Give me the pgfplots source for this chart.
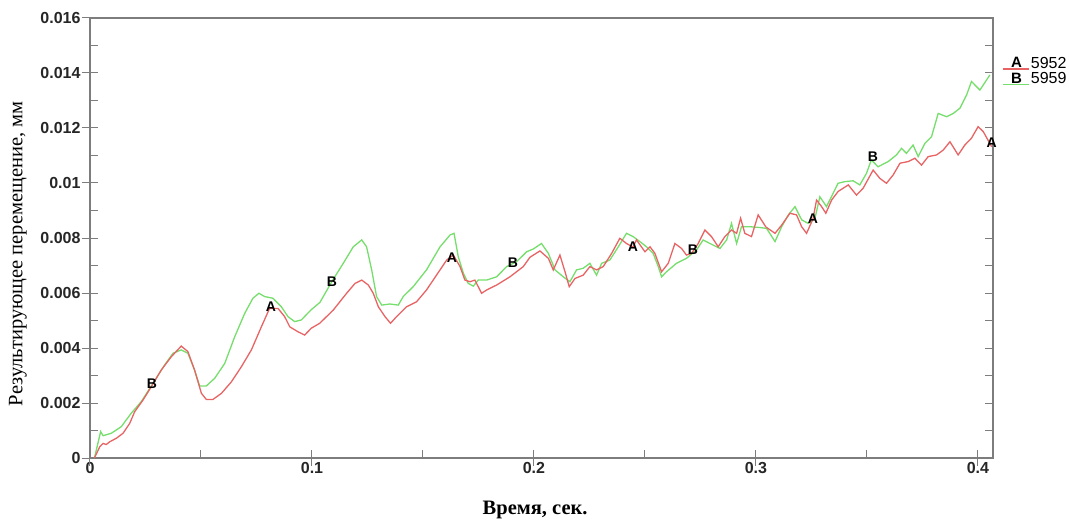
\documentclass[border=0pt]{standalone}
\usepackage{fontspec}
\setmainfont{Liberation Serif}
\setsansfont{Liberation Sans}
\usepackage{pgfplots}
\pgfplotsset{compat=1.18}
\definecolor{cA}{RGB}{232,100,100}
\definecolor{cB}{RGB}{118,222,108}
\definecolor{axgray}{RGB}{125,125,125}
\begin{document}
\begin{tikzpicture}
\useasboundingbox (-90pt,-62pt) rectangle (979pt,458pt);
\begin{axis}[
  at={(0,0)}, anchor=south west,
  width=903pt, height=440pt, scale only axis,
  xmin=0, xmax=0.4068, ymin=0, ymax=0.016,
  scaled x ticks=false, scaled y ticks=false,
  axis line style={axgray, line width=1.3pt},
  every tick/.style={axgray, line width=1pt},
  tick align=inside,
  major tick length=8pt, minor tick length=8pt,
  xtick pos=left, ytick pos=both,
  xtick={0,0.1,0.2,0.3,0.4},
  xticklabels={0,0.1,0.2,0.3,0.4},
  ytick={0,0.002,0.004,0.006,0.008,0.01,0.012,0.014,0.016},
  yticklabels={0,0.002,0.004,0.006,0.008,0.01,0.012,0.014,0.016},
  minor tick num=1,
  extra x ticks={0,0.1,0.2,0.3,0.4}, extra x tick labels={},
  extra x tick style={tick align=outside, major tick length=8pt},
  extra y ticks={0,0.002,0.004,0.006,0.008,0.01,0.012,0.014,0.016}, extra y tick labels={},
  extra y tick style={tick align=outside, ytick pos=left, major tick length=8pt},
  tick label style={font=\sffamily\bfseries\fontsize{16}{18}\selectfont, text=black!85},
  xticklabel style={yshift=-1pt},
  yticklabel style={xshift=-6pt},
  xlabel={Время, сек.},
  ylabel={Результирующее перемещение, мм},
  xlabel style={at={(axis description cs:0.493,-0.118)}, anchor=center, font=\bfseries\fontsize{20.5}{24}\selectfont},
  ylabel style={at={(axis description cs:-0.08,0.464)}, anchor=center, font=\fontsize{20.5}{24}\selectfont},
  legend style={at={(rel axis cs:1.01,0.915)}, anchor=north west, draw=none, fill=none,
    font=\sffamily\fontsize{16}{17}\selectfont, inner sep=0pt, row sep=0pt,
    nodes={inner sep=1.5pt}},
  legend cell align=left,
]
\addlegendimage{legend image code/.code={\draw[cA, line width=1.2pt] (0pt,-5.5pt)--(26pt,-5.5pt); \node[black, inner sep=0pt, font=\sffamily\bfseries\fontsize{15}{15}\selectfont] at (8pt,0pt) {A};}}
\addlegendentry{5952}
\addlegendimage{legend image code/.code={\draw[cB, line width=1.2pt] (0pt,-5.5pt)--(26pt,-5.5pt); \node[black, inner sep=0pt, font=\sffamily\bfseries\fontsize{15}{15}\selectfont] at (8pt,0pt) {B};}}
\addlegendentry{5959}

% Series B (green)
\addplot[forget plot, cB, line width=1.3pt] coordinates {
(0.002,0) (0.0048,0.00096) (0.0059,0.00081) (0.0096,0.0009) (0.0141,0.00114) (0.0186,0.00163)
(0.0231,0.00205) (0.0284,0.00272) (0.0336,0.00338) (0.0374,0.00381) (0.0411,0.00393) (0.0441,0.00381)
(0.0471,0.0032) (0.0494,0.00262) (0.0524,0.00262) (0.0562,0.0029) (0.0607,0.00344) (0.0652,0.00441)
(0.0697,0.00526) (0.0734,0.00581) (0.0761,0.00599) (0.0787,0.00587) (0.0824,0.00581) (0.0862,0.0055)
(0.0892,0.00514) (0.0922,0.00496) (0.0952,0.00502) (0.0995,0.00538) (0.1036,0.00566) (0.1089,0.00641)
(0.1141,0.00708) (0.1186,0.00768) (0.1224,0.00793) (0.1246,0.00768) (0.1269,0.00684) (0.1291,0.00587)
(0.1314,0.00556) (0.1351,0.0056) (0.1389,0.00556) (0.1411,0.00587) (0.1456,0.00623) (0.1516,0.00684)
(0.1577,0.00768) (0.1622,0.00811) (0.164,0.00817) (0.1659,0.00732) (0.1682,0.00672) (0.1704,0.00635)
(0.1727,0.00625) (0.1749,0.00647) (0.1787,0.00647) (0.1832,0.00659) (0.1877,0.00696) (0.1922,0.00714)
(0.1967,0.0075) (0.1997,0.0076) (0.2034,0.0078) (0.2065,0.00744) (0.2095,0.00684) (0.2132,0.00659)
(0.2162,0.00641) (0.2192,0.00684) (0.2222,0.0069) (0.2252,0.00708) (0.2282,0.00665) (0.2305,0.00708)
(0.2342,0.0072) (0.238,0.00768) (0.2417,0.00817) (0.2447,0.00805) (0.2477,0.00787) (0.2507,0.00768)
(0.2537,0.00744) (0.256,0.00696) (0.2575,0.00659) (0.2597,0.00677) (0.2642,0.00708) (0.2687,0.00726)
(0.2732,0.00756) (0.2762,0.00793) (0.2793,0.0078) (0.2838,0.00762) (0.2868,0.00793) (0.289,0.00853)
(0.2913,0.0078) (0.2935,0.00841) (0.2973,0.00841) (0.3018,0.00838) (0.3048,0.00835) (0.3086,0.00787)
(0.3116,0.00841) (0.3146,0.00884) (0.3176,0.00914) (0.3206,0.00866) (0.3236,0.00853) (0.3266,0.00872)
(0.3288,0.0095) (0.3318,0.00914) (0.3348,0.00963) (0.337,0.00999) (0.3401,0.01005) (0.3438,0.01008)
(0.3468,0.00993) (0.3498,0.01035) (0.352,0.01084) (0.355,0.01059) (0.3596,0.01078) (0.3633,0.01102)
(0.3656,0.01126) (0.3678,0.01108) (0.3708,0.01138) (0.3731,0.01096) (0.3761,0.01144) (0.3791,0.01168)
(0.3821,0.01253) (0.3859,0.01241) (0.3889,0.01253) (0.3919,0.01272) (0.3949,0.0132) (0.3971,0.01369)
(0.4009,0.01338) (0.4054,0.01393)
};
% Series A (red)
\addplot[forget plot, cA, line width=1.3pt] coordinates {
(0.002,0) (0.0044,0.00041) (0.0059,0.00053) (0.0073,0.00049) (0.0089,0.00059) (0.0119,0.00072)
(0.0149,0.0009) (0.0179,0.00126) (0.0201,0.00168) (0.0239,0.00211) (0.0276,0.00259) (0.0321,0.0032)
(0.0366,0.00368) (0.0411,0.00407) (0.0441,0.00387) (0.0471,0.0032) (0.0502,0.00235) (0.0524,0.00213)
(0.0554,0.00213) (0.0592,0.00235) (0.0637,0.00277) (0.0682,0.00332) (0.0727,0.00393) (0.0772,0.00477)
(0.0809,0.00544) (0.0847,0.00544) (0.0877,0.00514) (0.09,0.00477) (0.0937,0.00459) (0.0967,0.00447)
(0.0997,0.00472) (0.1035,0.0049) (0.1096,0.00538) (0.1156,0.00599) (0.1194,0.00635) (0.1224,0.00647)
(0.1254,0.00629) (0.1276,0.00599) (0.1299,0.0055) (0.1329,0.00514) (0.1354,0.0049) (0.1381,0.00514)
(0.1426,0.0055) (0.1471,0.00568) (0.1516,0.00611) (0.1561,0.00665) (0.1607,0.0072) (0.1637,0.00738)
(0.1667,0.00696) (0.1689,0.00647) (0.1712,0.00641) (0.1734,0.00647) (0.1764,0.00599) (0.1787,0.00611)
(0.1832,0.00629) (0.1892,0.00659) (0.1952,0.00696) (0.1982,0.0073) (0.2027,0.00753) (0.2065,0.00726)
(0.2087,0.00684) (0.2117,0.00738) (0.214,0.00677) (0.2159,0.00623) (0.2185,0.00653) (0.2222,0.00665)
(0.2252,0.00696) (0.2282,0.00684) (0.2312,0.00696) (0.235,0.00744) (0.2387,0.00799) (0.2417,0.0078)
(0.2446,0.00767) (0.2462,0.00793) (0.25,0.0075) (0.2523,0.00768) (0.2545,0.00744) (0.2575,0.00677)
(0.2605,0.00708) (0.2635,0.0078) (0.2665,0.00762) (0.2687,0.00738) (0.271,0.00744) (0.274,0.0078)
(0.277,0.00829) (0.28,0.00805) (0.283,0.00768) (0.286,0.00805) (0.289,0.00829) (0.2913,0.00817)
(0.2931,0.00872) (0.295,0.00817) (0.298,0.00805) (0.301,0.00884) (0.3045,0.0084) (0.3086,0.00817)
(0.3116,0.00847) (0.3153,0.0089) (0.3183,0.00884) (0.3206,0.00841) (0.3228,0.00817) (0.3257,0.00869)
(0.3273,0.00938) (0.3296,0.00914) (0.3315,0.0089) (0.3341,0.00938) (0.337,0.00969) (0.3416,0.00993)
(0.3453,0.00956) (0.3483,0.00981) (0.3528,0.01047) (0.3558,0.01017) (0.3588,0.00999) (0.3618,0.01029)
(0.3649,0.01072) (0.3686,0.01078) (0.3716,0.0109) (0.3746,0.01065) (0.3776,0.01096) (0.3814,0.01102)
(0.3844,0.0112) (0.3874,0.0115) (0.3911,0.01102) (0.3941,0.01138) (0.3971,0.01163) (0.4001,0.01205)
(0.4024,0.01187) (0.4062,0.01132)
};
% letter markers
\addplot[forget plot, only marks, black, mark=text, text mark={A}, text mark as node=true,
  text mark style={font=\sffamily\bfseries\fontsize{14}{14}\selectfont, inner sep=0pt}]
  coordinates {(0.0815,0.00549) (0.163,0.0073) (0.2446,0.00767) (0.3257,0.00869) (0.4062,0.01145)};
\addplot[forget plot, only marks, black, mark=text, text mark={B}, text mark as node=true,
  text mark style={font=\sffamily\bfseries\fontsize{14}{14}\selectfont, inner sep=0pt}]
  coordinates {(0.0279,0.00269) (0.109,0.0064) (0.1905,0.00709) (0.2716,0.00756) (0.3527,0.01094)};
\end{axis}
\end{tikzpicture}
\end{document}
